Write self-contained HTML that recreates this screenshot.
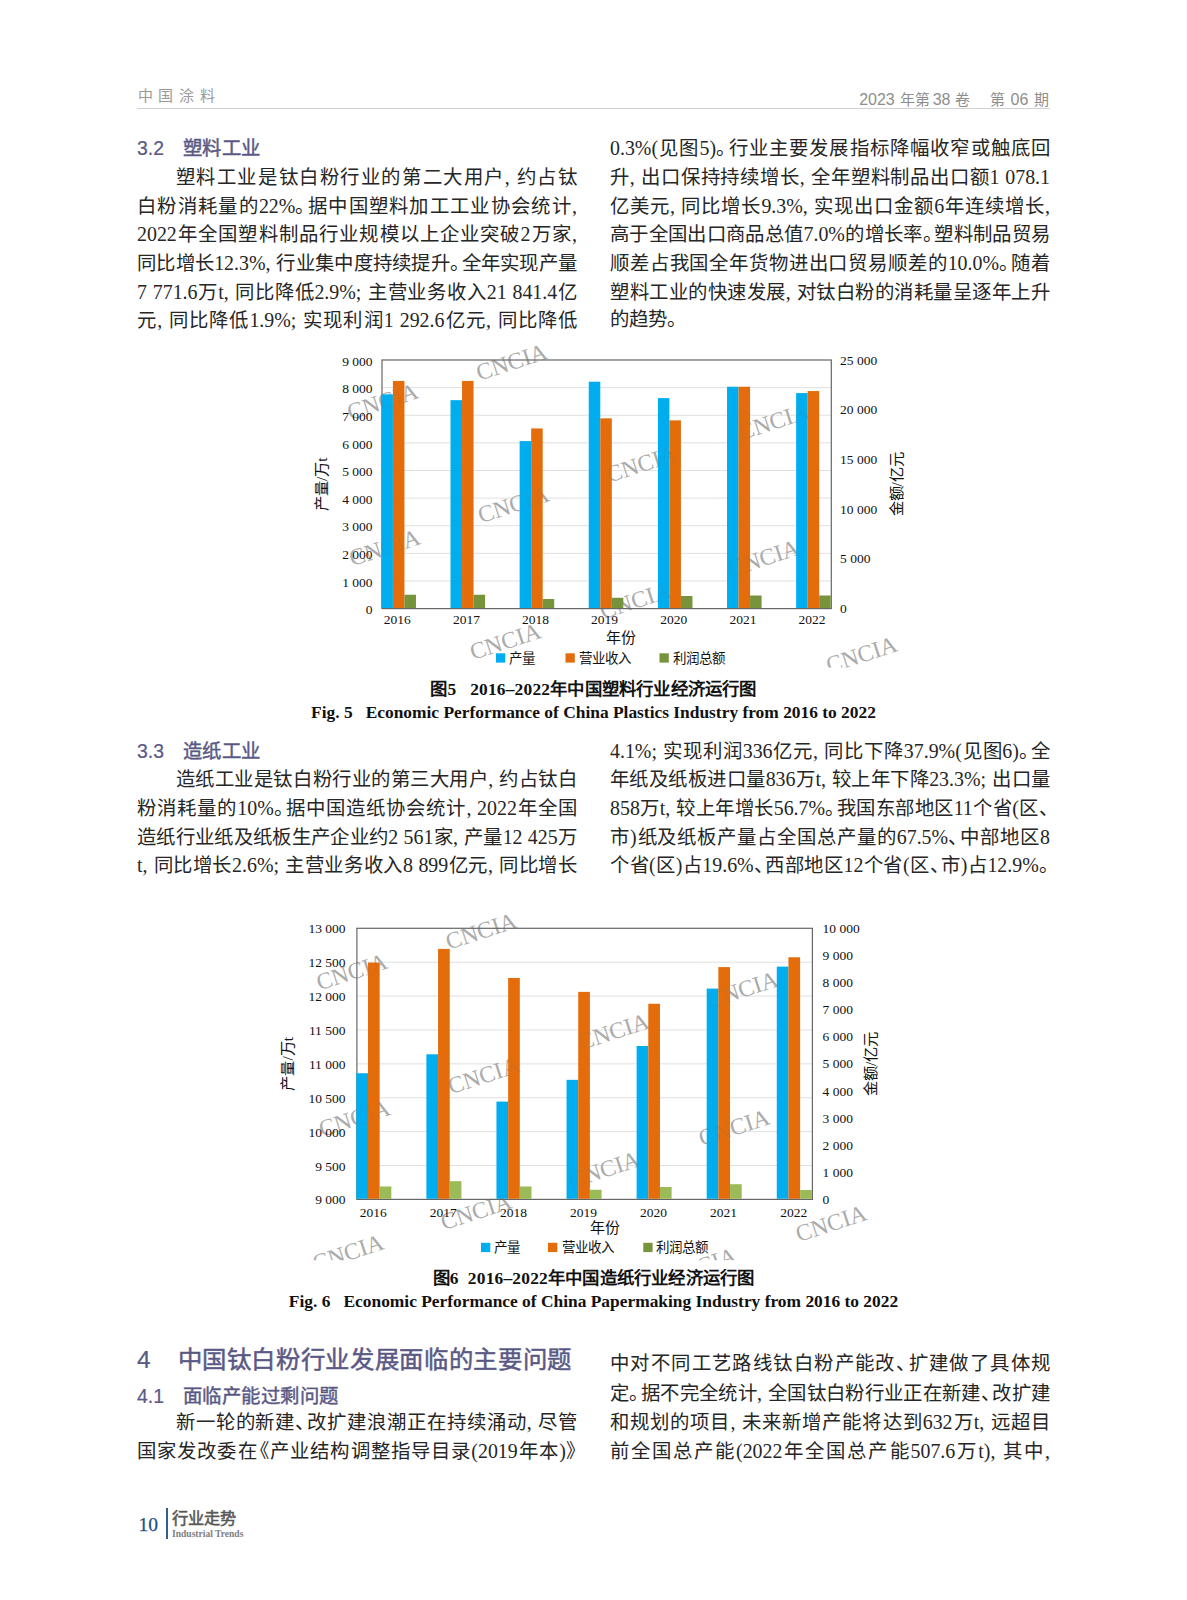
<!DOCTYPE html>
<html lang="zh-CN"><head><meta charset="utf-8"><title>page</title><style>
html,body{margin:0;padding:0;background:#fff;}
body{width:1187px;height:1600px;position:relative;overflow:hidden;font-family:"Liberation Serif",serif;color:#262626;}
.ln{position:absolute;height:28px;line-height:28px;font-size:19.4px;width:440px;text-align:justify;text-align-last:justify;overflow:hidden;white-space:normal;word-break:break-all;}
.ln.last{text-align-last:left;}
.p{display:inline-block;width:.58em;text-indent:0;text-align:left;text-align-last:left;white-space:nowrap;}
.pl{text-indent:-.42em;}
.e,.q{font-size:19.9px;}
.g{margin-right:.28em;}
.ln.ind{text-indent:2em;}
.h2{position:absolute;font-family:"Liberation Sans",sans-serif;color:#5a5985;-webkit-text-stroke:.45px #5a5985;font-size:19.4px;letter-spacing:.5px;line-height:28px;height:28px;white-space:nowrap;}
.h1{position:absolute;font-family:"Liberation Sans",sans-serif;color:#5a5985;-webkit-text-stroke:.5px #5a5985;font-size:24.4px;letter-spacing:.65px;line-height:34px;height:34px;white-space:nowrap;}
.cap{position:absolute;left:0;width:1187px;text-align:center;font-weight:bold;font-size:17.4px;line-height:22px;white-space:nowrap;color:#111;}
.n{letter-spacing:0 !important;-webkit-text-stroke:.2px #5a5985 !important;}
.hdr .c{font-size:15px;}
.hdr{position:absolute;font-family:"Liberation Sans",sans-serif;color:#999;font-size:16px;line-height:20px;white-space:nowrap;}
svg{position:absolute;left:0;top:0;}
svg text{font-family:"Liberation Serif",serif;}
</style></head><body>
<div class="hdr" style="left:137.5px;top:86px;font-size:15px;letter-spacing:5.7px;">中国涂料</div>
<div class="hdr" style="right:138px;top:90px;color:#8e8e8e">2023<span class="c" style="margin-left:5.4px">年</span><span class="c" style="margin-left:.2px">第</span><span style="margin-left:2.3px">38</span><span class="c" style="margin-left:4.4px">卷</span><span class="c" style="margin-left:19.7px">第</span><span style="margin-left:6.1px">06</span><span class="c" style="margin-left:5.6px">期</span></div>
<div style="position:absolute;left:137px;top:107.5px;width:913px;height:1px;background:#cfd2d2"></div>
<div class="h2 n" style="left:137px;top:134px;">3.2</div><div class="h2" style="left:182.5px;top:134px;">塑料工业</div>
<div class="ln ind" style="left:137px;top:163.0px;">塑料工业是钛白粉行业的第二大用户<span class="q g">,</span>约占钛</div>
<div class="ln" style="left:137px;top:191.5px;">白粉消耗量的<span class="e">22%</span><span class="p">。</span>据中国塑料加工工业协会统计<span class="q">,</span></div>
<div class="ln" style="left:137px;top:220.0px;"><span class="e">2022</span>年全国塑料制品行业规模以上企业突破<span class="e">2</span>万家<span class="q">,</span></div>
<div class="ln" style="left:137px;top:249.0px;">同比增长<span class="e">12.3%</span><span class="q g">,</span>行业集中度持续提升<span class="p">。</span>全年实现产量</div>
<div class="ln" style="left:137px;top:277.5px;"><span class="e">7 771.6</span>万<span class="e">t</span><span class="q g">,</span>同比降低<span class="e">2.9%</span><span class="q g">;</span>主营业务收入<span class="e">21 841.4</span>亿</div>
<div class="ln" style="left:137px;top:306.0px;">元<span class="q g">,</span>同比降低<span class="e">1.9%</span><span class="q g">;</span>实现利润<span class="e">1 292.6</span>亿元<span class="q g">,</span>同比降低</div>
<div class="ln" style="left:610px;top:134.0px;"><span class="e">0.3%(</span>见图<span class="e">5)</span><span class="p">。</span>行业主要发展指标降幅收窄或触底回</div>
<div class="ln" style="left:610px;top:163.0px;">升<span class="q g">,</span>出口保持持续增长<span class="q g">,</span>全年塑料制品出口额<span class="e">1 078.1</span></div>
<div class="ln" style="left:610px;top:191.5px;">亿美元<span class="q g">,</span>同比增长<span class="e">9.3%</span><span class="q g">,</span>实现出口金额<span class="e">6</span>年连续增长<span class="q">,</span></div>
<div class="ln" style="left:610px;top:220.0px;">高于全国出口商品总值<span class="e">7.0%</span>的增长率<span class="p">。</span>塑料制品贸易</div>
<div class="ln" style="left:610px;top:249.0px;">顺差占我国全年货物进出口贸易顺差的<span class="e">10.0%</span><span class="p">。</span>随着</div>
<div class="ln" style="left:610px;top:277.5px;">塑料工业的快速发展<span class="q g">,</span>对钛白粉的消耗量呈逐年上升</div>
<div class="ln last" style="left:610px;top:306.0px;">的趋势<span class="p">。</span></div>
<div class="h2 n" style="left:137px;top:737px;">3.3</div><div class="h2" style="left:182.5px;top:737px;">造纸工业</div>
<div class="ln ind" style="left:137px;top:765.0px;">造纸工业是钛白粉行业的第三大用户<span class="q g">,</span>约占钛白</div>
<div class="ln" style="left:137px;top:794.0px;">粉消耗量的<span class="e">10%</span><span class="p">。</span>据中国造纸协会统计<span class="q g">,</span><span class="e">2022</span>年全国</div>
<div class="ln" style="left:137px;top:822.5px;">造纸行业纸及纸板生产企业约<span class="e">2 561</span>家<span class="q g">,</span>产量<span class="e">12 425</span>万</div>
<div class="ln" style="left:137px;top:851.0px;"><span class="e">t</span><span class="q g">,</span>同比增长<span class="e">2.6%</span><span class="q g">;</span>主营业务收入<span class="e">8 899</span>亿元<span class="q g">,</span>同比增长</div>
<div class="ln" style="left:610px;top:737.0px;"><span class="e">4.1%</span><span class="q g">;</span>实现利润<span class="e">336</span>亿元<span class="q g">,</span>同比下降<span class="e">37.9%(</span>见图<span class="e">6)</span><span class="p">。</span>全</div>
<div class="ln" style="left:610px;top:765.0px;">年纸及纸板进口量<span class="e">836</span>万<span class="e">t</span><span class="q g">,</span>较上年下降<span class="e">23.3%</span><span class="q g">;</span>出口量</div>
<div class="ln" style="left:610px;top:794.0px;"><span class="e">858</span>万<span class="e">t</span><span class="q g">,</span>较上年增长<span class="e">56.7%</span><span class="p">。</span>我国东部地区<span class="e">11</span>个省<span class="e">(</span>区<span class="p">、</span></div>
<div class="ln" style="left:610px;top:822.5px;">市<span class="e">)</span>纸及纸板产量占全国总产量的<span class="e">67.5%</span><span class="p">、</span>中部地区<span class="e">8</span></div>
<div class="ln" style="left:610px;top:851.0px;">个省<span class="e">(</span>区<span class="e">)</span>占<span class="e">19.6%</span><span class="p">、</span>西部地区<span class="e">12</span>个省<span class="e">(</span>区<span class="p">、</span>市<span class="e">)</span>占<span class="e">12.9%</span><span class="p">。</span></div>
<div class="h1 n" style="left:137px;top:1342.7px;">4</div><div class="h1" style="left:177.5px;top:1342.7px;">中国钛白粉行业发展面临的主要问题</div>
<div class="h2 n" style="left:137px;top:1381.5px;">4.1</div><div class="h2" style="left:182.5px;top:1381.5px;">面临产能过剩问题</div>
<div class="ln ind" style="left:137px;top:1408.0px;">新一轮的新建<span class="p">、</span>改扩建浪潮正在持续涌动<span class="q g">,</span>尽管</div>
<div class="ln" style="left:137px;top:1436.5px;">国家发改委在<span class="p pl">《</span>产业结构调整指导目录<span class="e">(2019</span>年本<span class="e">)</span><span class="p">》</span></div>
<div class="ln" style="left:610px;top:1350.0px;">中对不同工艺路线钛白粉产能改<span class="p">、</span>扩建做了具体规</div>
<div class="ln" style="left:610px;top:1379.0px;">定<span class="p">。</span>据不完全统计<span class="q g">,</span>全国钛白粉行业正在新建<span class="p">、</span>改扩建</div>
<div class="ln" style="left:610px;top:1408.0px;">和规划的项目<span class="q g">,</span>未来新增产能将达到<span class="e">632</span>万<span class="e">t</span><span class="q g">,</span>远超目</div>
<div class="ln" style="left:610px;top:1436.5px;">前全国总产能<span class="e">(2022</span>年全国总产能<span class="e">507.6</span>万<span class="e">t)</span><span class="q g">,</span>其中<span class="q">,</span></div>
<div class="cap" style="top:678px;left:0;letter-spacing:.2px">图5&nbsp;&nbsp;&nbsp;2016–2022年中国塑料行业经济运行图</div>
<div class="cap" style="top:701px;left:0;">Fig. 5&nbsp;&nbsp;&nbsp;Economic Performance of China Plastics Industry from 2016 to 2022</div>
<div class="cap" style="top:1266.5px;left:0;letter-spacing:.2px">图6&nbsp;&nbsp;2016–2022年中国造纸行业经济运行图</div>
<div class="cap" style="top:1290px;left:0;">Fig. 6&nbsp;&nbsp;&nbsp;Economic Performance of China Papermaking Industry from 2016 to 2022</div>
<div style="position:absolute;left:138.5px;top:1513px;font-size:19.5px;line-height:24px;color:#1f4f8a;-webkit-text-stroke:.25px #1f4f8a;">10</div>
<div style="position:absolute;left:166px;top:1508px;width:2px;height:31px;background:#2f5f95"></div>
<div style="position:absolute;left:172px;top:1507.6px;font-family:'Liberation Sans',sans-serif;font-size:16.2px;line-height:20px;color:#585858;-webkit-text-stroke:.55px #585858;white-space:nowrap;">行业走势</div>
<div style="position:absolute;left:172px;top:1528px;font-weight:bold;font-size:9.55px;line-height:12px;color:#808080;white-space:nowrap;">Industrial Trends</div>
<svg width="1187" height="1600" viewBox="0 0 1187 1600"><line x1="382.0" x2="831.3" y1="387.62" y2="387.62" stroke="#e0e0e0" stroke-width="1"/>
<line x1="382.0" x2="831.3" y1="415.24" y2="415.24" stroke="#e0e0e0" stroke-width="1"/>
<line x1="382.0" x2="831.3" y1="442.87" y2="442.87" stroke="#e0e0e0" stroke-width="1"/>
<line x1="382.0" x2="831.3" y1="470.49" y2="470.49" stroke="#e0e0e0" stroke-width="1"/>
<line x1="382.0" x2="831.3" y1="498.11" y2="498.11" stroke="#e0e0e0" stroke-width="1"/>
<line x1="382.0" x2="831.3" y1="525.73" y2="525.73" stroke="#e0e0e0" stroke-width="1"/>
<line x1="382.0" x2="831.3" y1="553.36" y2="553.36" stroke="#e0e0e0" stroke-width="1"/>
<line x1="382.0" x2="831.3" y1="580.98" y2="580.98" stroke="#e0e0e0" stroke-width="1"/>
<clipPath id="c1"><rect x="300.0" y="340.0" width="630.0" height="327.5"/></clipPath>
<g clip-path="url(#c1)" fill="#b3b3b3"><text transform="translate(514.0,369.5) rotate(-18)" font-size="23.5" text-anchor="middle">CNCIA</text><text transform="translate(385.0,409.0) rotate(-18)" font-size="23.5" text-anchor="middle">CNCIA</text><text transform="translate(776.0,429.0) rotate(-18)" font-size="23.5" text-anchor="middle">CNCIA</text><text transform="translate(644.0,471.5) rotate(-18)" font-size="23.5" text-anchor="middle">CNCIA</text><text transform="translate(515.8,512.0) rotate(-18)" font-size="23.5" text-anchor="middle">CNCIA</text><text transform="translate(387.0,555.0) rotate(-18)" font-size="23.5" text-anchor="middle">CNCIA</text><text transform="translate(766.0,565.5) rotate(-18)" font-size="23.5" text-anchor="middle">CNCIA</text><text transform="translate(637.7,608.0) rotate(-18)" font-size="23.5" text-anchor="middle">CNCIA</text><text transform="translate(507.7,648.7) rotate(-18)" font-size="23.5" text-anchor="middle">CNCIA</text><text transform="translate(864.0,662.0) rotate(-18)" font-size="23.5" text-anchor="middle">CNCIA</text></g>
<rect x="382.0" y="360.0" width="449.3" height="248.6" fill="none" stroke="#666" stroke-width="1.2"/>
<rect x="381.40" y="394.33" width="11.52" height="213.67" fill="#00adef"/>
<rect x="392.92" y="380.94" width="11.52" height="227.06" fill="#e46c0a"/>
<rect x="404.44" y="594.74" width="11.52" height="13.26" fill="#77933c"/>
<rect x="450.52" y="400.15" width="11.52" height="207.85" fill="#00adef"/>
<rect x="462.04" y="380.94" width="11.52" height="227.06" fill="#e46c0a"/>
<rect x="473.56" y="594.74" width="11.52" height="13.26" fill="#77933c"/>
<rect x="519.65" y="441.09" width="11.52" height="166.91" fill="#00adef"/>
<rect x="531.17" y="428.45" width="11.52" height="179.55" fill="#e46c0a"/>
<rect x="542.69" y="599.03" width="11.52" height="8.97" fill="#77933c"/>
<rect x="588.77" y="381.70" width="11.52" height="226.30" fill="#00adef"/>
<rect x="600.29" y="418.34" width="11.52" height="189.66" fill="#e46c0a"/>
<rect x="611.81" y="597.77" width="11.52" height="10.23" fill="#77933c"/>
<rect x="657.89" y="398.12" width="11.52" height="209.88" fill="#00adef"/>
<rect x="669.41" y="420.36" width="11.52" height="187.64" fill="#e46c0a"/>
<rect x="680.93" y="596.00" width="11.52" height="12.00" fill="#77933c"/>
<rect x="727.02" y="386.75" width="11.52" height="221.25" fill="#00adef"/>
<rect x="738.54" y="386.75" width="11.52" height="221.25" fill="#e46c0a"/>
<rect x="750.06" y="595.50" width="11.52" height="12.50" fill="#77933c"/>
<rect x="796.14" y="393.07" width="11.52" height="214.93" fill="#00adef"/>
<rect x="807.66" y="391.05" width="11.52" height="216.95" fill="#e46c0a"/>
<rect x="819.18" y="595.50" width="11.52" height="12.50" fill="#77933c"/>
<g clip-path="url(#c1)" fill="#777" fill-opacity="0.13"><text transform="translate(514.0,369.5) rotate(-18)" font-size="23.5" text-anchor="middle">CNCIA</text><text transform="translate(385.0,409.0) rotate(-18)" font-size="23.5" text-anchor="middle">CNCIA</text><text transform="translate(776.0,429.0) rotate(-18)" font-size="23.5" text-anchor="middle">CNCIA</text><text transform="translate(644.0,471.5) rotate(-18)" font-size="23.5" text-anchor="middle">CNCIA</text><text transform="translate(515.8,512.0) rotate(-18)" font-size="23.5" text-anchor="middle">CNCIA</text><text transform="translate(387.0,555.0) rotate(-18)" font-size="23.5" text-anchor="middle">CNCIA</text><text transform="translate(766.0,565.5) rotate(-18)" font-size="23.5" text-anchor="middle">CNCIA</text><text transform="translate(637.7,608.0) rotate(-18)" font-size="23.5" text-anchor="middle">CNCIA</text><text transform="translate(507.7,648.7) rotate(-18)" font-size="23.5" text-anchor="middle">CNCIA</text><text transform="translate(864.0,662.0) rotate(-18)" font-size="23.5" text-anchor="middle">CNCIA</text></g>
<text x="372.5" y="365.7" font-size="13.5" text-anchor="end" fill="#111">9 000</text>
<text x="372.5" y="393.3" font-size="13.5" text-anchor="end" fill="#111">8 000</text>
<text x="372.5" y="420.9" font-size="13.5" text-anchor="end" fill="#111">7 000</text>
<text x="372.5" y="448.6" font-size="13.5" text-anchor="end" fill="#111">6 000</text>
<text x="372.5" y="476.2" font-size="13.5" text-anchor="end" fill="#111">5 000</text>
<text x="372.5" y="503.8" font-size="13.5" text-anchor="end" fill="#111">4 000</text>
<text x="372.5" y="531.4" font-size="13.5" text-anchor="end" fill="#111">3 000</text>
<text x="372.5" y="559.1" font-size="13.5" text-anchor="end" fill="#111">2 000</text>
<text x="372.5" y="586.7" font-size="13.5" text-anchor="end" fill="#111">1 000</text>
<text x="372.5" y="614.3" font-size="13.5" text-anchor="end" fill="#111">0</text>
<text x="840.0" y="364.5" font-size="13.5" text-anchor="start" fill="#111">25 000</text>
<text x="840.0" y="414.2" font-size="13.5" text-anchor="start" fill="#111">20 000</text>
<text x="840.0" y="463.9" font-size="13.5" text-anchor="start" fill="#111">15 000</text>
<text x="840.0" y="513.7" font-size="13.5" text-anchor="start" fill="#111">10 000</text>
<text x="840.0" y="563.4" font-size="13.5" text-anchor="start" fill="#111">5 000</text>
<text x="840.0" y="613.1" font-size="13.5" text-anchor="start" fill="#111">0</text>
<text x="397.3" y="624.1" font-size="13.5" text-anchor="middle" fill="#111">2016</text>
<text x="466.4" y="624.1" font-size="13.5" text-anchor="middle" fill="#111">2017</text>
<text x="535.5" y="624.1" font-size="13.5" text-anchor="middle" fill="#111">2018</text>
<text x="604.6" y="624.1" font-size="13.5" text-anchor="middle" fill="#111">2019</text>
<text x="673.8" y="624.1" font-size="13.5" text-anchor="middle" fill="#111">2020</text>
<text x="742.9" y="624.1" font-size="13.5" text-anchor="middle" fill="#111">2021</text>
<text x="812.0" y="624.1" font-size="13.5" text-anchor="middle" fill="#111">2022</text>
<text x="621.0" y="643.3" font-size="15" text-anchor="middle" fill="#111">年份</text>
<rect x="496.0" y="653.3" width="9.3" height="9.3" fill="#00adef"/>
<text x="509.0" y="662.5" font-size="13.5" fill="#111">产量</text>
<rect x="565.5" y="653.3" width="9.3" height="9.3" fill="#e46c0a"/>
<text x="579.0" y="662.5" font-size="13.5" fill="#111">营业收入</text>
<rect x="659.5" y="653.3" width="9.3" height="9.3" fill="#77933c"/>
<text x="673.0" y="662.5" font-size="13.5" fill="#111">利润总额</text>
<text transform="translate(327.0,484.3) rotate(-90)" font-size="15.3" text-anchor="middle" fill="#111">产量/万t</text>
<text transform="translate(902.0,484.3) rotate(-90)" font-size="15.3" text-anchor="middle" fill="#111">金额/亿元</text>
<line x1="356.9" x2="812.4" y1="962.19" y2="962.19" stroke="#e0e0e0" stroke-width="1"/>
<line x1="356.9" x2="812.4" y1="996.08" y2="996.08" stroke="#e0e0e0" stroke-width="1"/>
<line x1="356.9" x2="812.4" y1="1029.96" y2="1029.96" stroke="#e0e0e0" stroke-width="1"/>
<line x1="356.9" x2="812.4" y1="1063.85" y2="1063.85" stroke="#e0e0e0" stroke-width="1"/>
<line x1="356.9" x2="812.4" y1="1097.74" y2="1097.74" stroke="#e0e0e0" stroke-width="1"/>
<line x1="356.9" x2="812.4" y1="1131.62" y2="1131.62" stroke="#e0e0e0" stroke-width="1"/>
<line x1="356.9" x2="812.4" y1="1165.51" y2="1165.51" stroke="#e0e0e0" stroke-width="1"/>
<clipPath id="c2"><rect x="311.0" y="905.0" width="589.0" height="355.3"/></clipPath>
<g clip-path="url(#c2)" fill="#b3b3b3"><text transform="translate(483.5,938.5) rotate(-18)" font-size="23.5" text-anchor="middle">CNCIA</text><text transform="translate(354.2,979.3) rotate(-18)" font-size="23.5" text-anchor="middle">CNCIA</text><text transform="translate(744.8,997.0) rotate(-18)" font-size="23.5" text-anchor="middle">CNCIA</text><text transform="translate(615.8,1039.0) rotate(-18)" font-size="23.5" text-anchor="middle">CNCIA</text><text transform="translate(485.8,1083.0) rotate(-18)" font-size="23.5" text-anchor="middle">CNCIA</text><text transform="translate(356.8,1125.7) rotate(-18)" font-size="23.5" text-anchor="middle">CNCIA</text><text transform="translate(736.5,1135.0) rotate(-18)" font-size="23.5" text-anchor="middle">CNCIA</text><text transform="translate(606.5,1177.0) rotate(-18)" font-size="23.5" text-anchor="middle">CNCIA</text><text transform="translate(478.5,1219.0) rotate(-18)" font-size="23.5" text-anchor="middle">CNCIA</text><text transform="translate(833.5,1230.7) rotate(-18)" font-size="23.5" text-anchor="middle">CNCIA</text><text transform="translate(350.5,1260.0) rotate(-18)" font-size="23.5" text-anchor="middle">CNCIA</text><text transform="translate(703.5,1273.5) rotate(-18)" font-size="23.5" text-anchor="middle">CNCIA</text></g>
<rect x="356.9" y="928.3" width="455.5" height="271.1" fill="none" stroke="#666" stroke-width="1.2"/>
<rect x="356.30" y="1073.25" width="11.68" height="125.55" fill="#00adef"/>
<rect x="367.98" y="962.57" width="11.68" height="236.23" fill="#e46c0a"/>
<rect x="379.66" y="1186.47" width="11.68" height="12.33" fill="#9bbb59"/>
<rect x="426.38" y="1054.30" width="11.68" height="144.50" fill="#00adef"/>
<rect x="438.06" y="948.92" width="11.68" height="249.88" fill="#e46c0a"/>
<rect x="449.74" y="1181.17" width="11.68" height="17.63" fill="#9bbb59"/>
<rect x="496.45" y="1101.56" width="11.68" height="97.24" fill="#00adef"/>
<rect x="508.13" y="977.98" width="11.68" height="220.82" fill="#e46c0a"/>
<rect x="519.81" y="1186.47" width="11.68" height="12.33" fill="#9bbb59"/>
<rect x="566.53" y="1079.83" width="11.68" height="118.97" fill="#00adef"/>
<rect x="578.21" y="991.88" width="11.68" height="206.92" fill="#e46c0a"/>
<rect x="589.89" y="1189.76" width="11.68" height="9.04" fill="#9bbb59"/>
<rect x="636.61" y="1045.96" width="11.68" height="152.84" fill="#00adef"/>
<rect x="648.29" y="1003.76" width="11.68" height="195.04" fill="#e46c0a"/>
<rect x="659.97" y="1186.98" width="11.68" height="11.82" fill="#9bbb59"/>
<rect x="706.68" y="988.59" width="11.68" height="210.21" fill="#00adef"/>
<rect x="718.36" y="967.11" width="11.68" height="231.69" fill="#e46c0a"/>
<rect x="730.04" y="1184.20" width="11.68" height="14.60" fill="#9bbb59"/>
<rect x="776.76" y="966.61" width="11.68" height="232.19" fill="#00adef"/>
<rect x="788.44" y="957.26" width="11.68" height="241.54" fill="#e46c0a"/>
<rect x="800.12" y="1190.01" width="11.68" height="8.79" fill="#9bbb59"/>
<g clip-path="url(#c2)" fill="#777" fill-opacity="0.13"><text transform="translate(483.5,938.5) rotate(-18)" font-size="23.5" text-anchor="middle">CNCIA</text><text transform="translate(354.2,979.3) rotate(-18)" font-size="23.5" text-anchor="middle">CNCIA</text><text transform="translate(744.8,997.0) rotate(-18)" font-size="23.5" text-anchor="middle">CNCIA</text><text transform="translate(615.8,1039.0) rotate(-18)" font-size="23.5" text-anchor="middle">CNCIA</text><text transform="translate(485.8,1083.0) rotate(-18)" font-size="23.5" text-anchor="middle">CNCIA</text><text transform="translate(356.8,1125.7) rotate(-18)" font-size="23.5" text-anchor="middle">CNCIA</text><text transform="translate(736.5,1135.0) rotate(-18)" font-size="23.5" text-anchor="middle">CNCIA</text><text transform="translate(606.5,1177.0) rotate(-18)" font-size="23.5" text-anchor="middle">CNCIA</text><text transform="translate(478.5,1219.0) rotate(-18)" font-size="23.5" text-anchor="middle">CNCIA</text><text transform="translate(833.5,1230.7) rotate(-18)" font-size="23.5" text-anchor="middle">CNCIA</text><text transform="translate(350.5,1260.0) rotate(-18)" font-size="23.5" text-anchor="middle">CNCIA</text><text transform="translate(703.5,1273.5) rotate(-18)" font-size="23.5" text-anchor="middle">CNCIA</text></g>
<text x="345.5" y="933.3" font-size="13.5" text-anchor="end" fill="#111">13 000</text>
<text x="345.5" y="967.2" font-size="13.5" text-anchor="end" fill="#111">12 500</text>
<text x="345.5" y="1001.1" font-size="13.5" text-anchor="end" fill="#111">12 000</text>
<text x="345.5" y="1035.0" font-size="13.5" text-anchor="end" fill="#111">11 500</text>
<text x="345.5" y="1068.8" font-size="13.5" text-anchor="end" fill="#111">11 000</text>
<text x="345.5" y="1102.7" font-size="13.5" text-anchor="end" fill="#111">10 500</text>
<text x="345.5" y="1136.6" font-size="13.5" text-anchor="end" fill="#111">10 000</text>
<text x="345.5" y="1170.5" font-size="13.5" text-anchor="end" fill="#111">9 500</text>
<text x="345.5" y="1204.4" font-size="13.5" text-anchor="end" fill="#111">9 000</text>
<text x="822.5" y="932.8" font-size="13.5" text-anchor="start" fill="#111">10 000</text>
<text x="822.5" y="959.9" font-size="13.5" text-anchor="start" fill="#111">9 000</text>
<text x="822.5" y="987.0" font-size="13.5" text-anchor="start" fill="#111">8 000</text>
<text x="822.5" y="1014.1" font-size="13.5" text-anchor="start" fill="#111">7 000</text>
<text x="822.5" y="1041.2" font-size="13.5" text-anchor="start" fill="#111">6 000</text>
<text x="822.5" y="1068.3" font-size="13.5" text-anchor="start" fill="#111">5 000</text>
<text x="822.5" y="1095.5" font-size="13.5" text-anchor="start" fill="#111">4 000</text>
<text x="822.5" y="1122.6" font-size="13.5" text-anchor="start" fill="#111">3 000</text>
<text x="822.5" y="1149.7" font-size="13.5" text-anchor="start" fill="#111">2 000</text>
<text x="822.5" y="1176.8" font-size="13.5" text-anchor="start" fill="#111">1 000</text>
<text x="822.5" y="1203.9" font-size="13.5" text-anchor="start" fill="#111">0</text>
<text x="373.2" y="1217.3" font-size="13.5" text-anchor="middle" fill="#111">2016</text>
<text x="443.3" y="1217.3" font-size="13.5" text-anchor="middle" fill="#111">2017</text>
<text x="513.4" y="1217.3" font-size="13.5" text-anchor="middle" fill="#111">2018</text>
<text x="583.4" y="1217.3" font-size="13.5" text-anchor="middle" fill="#111">2019</text>
<text x="653.5" y="1217.3" font-size="13.5" text-anchor="middle" fill="#111">2020</text>
<text x="723.6" y="1217.3" font-size="13.5" text-anchor="middle" fill="#111">2021</text>
<text x="793.7" y="1217.3" font-size="13.5" text-anchor="middle" fill="#111">2022</text>
<text x="605.0" y="1233.3" font-size="15" text-anchor="middle" fill="#111">年份</text>
<rect x="481.0" y="1242.8" width="9.3" height="9.3" fill="#00adef"/>
<text x="494.0" y="1252.0" font-size="13.5" fill="#111">产量</text>
<rect x="548.0" y="1242.8" width="9.3" height="9.3" fill="#e46c0a"/>
<text x="562.0" y="1252.0" font-size="13.5" fill="#111">营业收入</text>
<rect x="643.3" y="1242.8" width="9.3" height="9.3" fill="#77933c"/>
<text x="656.0" y="1252.0" font-size="13.5" fill="#111">利润总额</text>
<text transform="translate(293.0,1063.8) rotate(-90)" font-size="15.3" text-anchor="middle" fill="#111">产量/万t</text>
<text transform="translate(876.0,1063.8) rotate(-90)" font-size="15.3" text-anchor="middle" fill="#111">金额/亿元</text></svg>
</body></html>
